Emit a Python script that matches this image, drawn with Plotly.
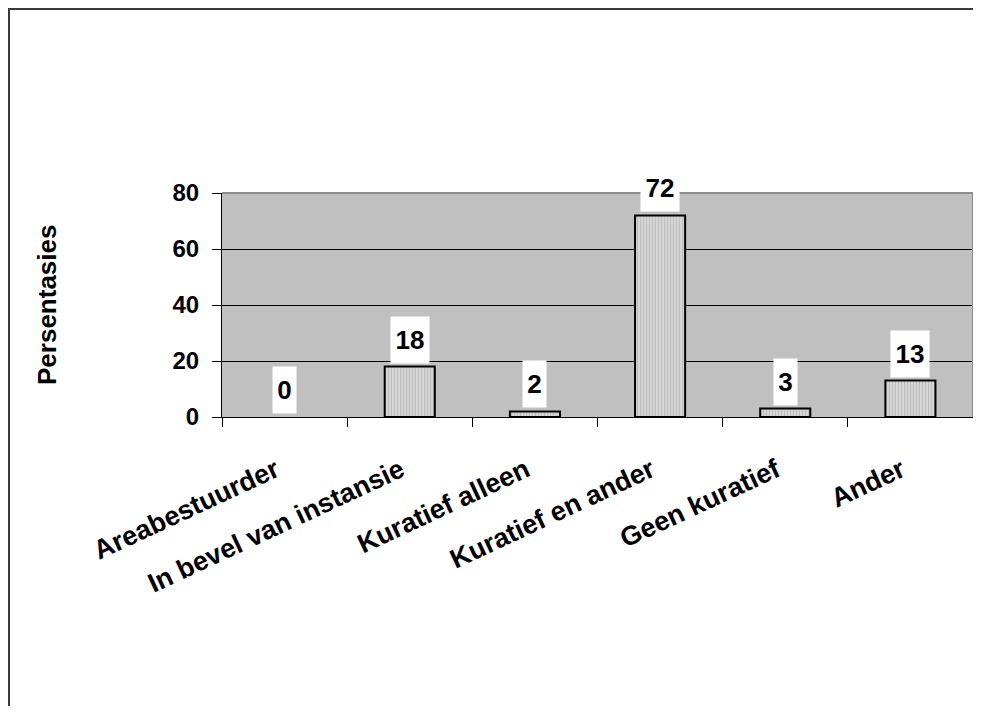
import plotly.graph_objects as go

categories = ["Areabestuurder", "In bevel van instansie", "Kuratief alleen",
              "Kuratief en ander", "Geen kuratief", "Ander"]
values = [0, 18, 2, 72, 3, 13]
value_labels = ["0", "18", "2", "72", "3", "13"]
y_ticks = [0, 20, 40, 60, 80]
y_title = "Persentasies"

FONT = "Arial, Liberation Sans, sans-serif"

W, H = 965, 698
ML, MR, MT = 214, 0, 185
MB = H - 409

fig = go.Figure()
fig.add_trace(go.Bar(
    x=categories, y=values, width=0.4,
    marker=dict(
        color="#D6D6D6",
        line=dict(color="black", width=[0 if v == 0 else 2 for v in values]),
        pattern=dict(shape="|", fgcolor="#A4A4A4", bgcolor="#D6D6D6", size=3, solidity=0.35),
    ),
    hoverinfo="skip",
))

annotations = []
for c, v, t in zip(categories, values, value_labels):
    annotations.append(dict(
        x=c, y=v, xref="x", yref="y", text=t, showarrow=False,
        yanchor="bottom", xanchor="center", yshift=3,
        bgcolor="white", width=15 * len(t) + 8, height=46, borderpad=0,
        font=dict(family=FONT, size=26, color="black", weight="bold"),
    ))
annotations.append(dict(
    x=0, y=0.5, xref="paper", yref="paper", text=y_title, showarrow=False,
    textangle=-90, xanchor="center", yanchor="middle", xshift=-175,
    font=dict(family=FONT, size=26, color="black", weight="bold"),
))

pw = W - ML - MR
ph = H - MT - MB
shapes = [
    # top and right plot-area border (gray)
    dict(type="path", xref="paper", yref="paper", path="M 0,1 L 1,1 L 1,0",
         line=dict(color="#8C8C8C", width=2), layer="above"),
    # outer figure frame
    dict(type="rect", xref="paper", yref="paper",
         x0=(1 - ML) / pw, x1=1 + 20 / pw, y0=-(MB + 20) / ph, y1=(ph + MT - 1) / ph,
         line=dict(color="#3A3A3A", width=2), layer="below"),
]

fig.update_layout(
    width=W, height=H,
    margin=dict(l=ML, r=MR, t=MT, b=MB, autoexpand=False),
    paper_bgcolor="white", plot_bgcolor="#C0C0C0",
    showlegend=False,
    annotations=annotations, shapes=shapes,
    font=dict(family=FONT, size=24, color="black"),
)
fig.update_xaxes(
    type="category", range=[-0.5, 5.5], showline=True, linecolor="black", linewidth=1,
    ticks="outside", tickson="boundaries", ticklen=9, tickcolor="black", tickwidth=1,
    tickangle=-25, ticklabelstandoff=26, ticklabelshift=-9, showgrid=False, automargin=False,
    tickfont=dict(family=FONT, size=27, color="black", weight="bold"),
)
fig.update_yaxes(
    range=[0, 80], tickvals=y_ticks, showline=True, linecolor="black", linewidth=1,
    ticks="outside", ticklen=9, tickcolor="black", tickwidth=1,
    showgrid=True, gridcolor="black", gridwidth=1, zeroline=False,
    ticklabelstandoff=8, automargin=False,
    tickfont=dict(family=FONT, size=24, color="black", weight="bold"),
)

fig.write_html("out.html")
